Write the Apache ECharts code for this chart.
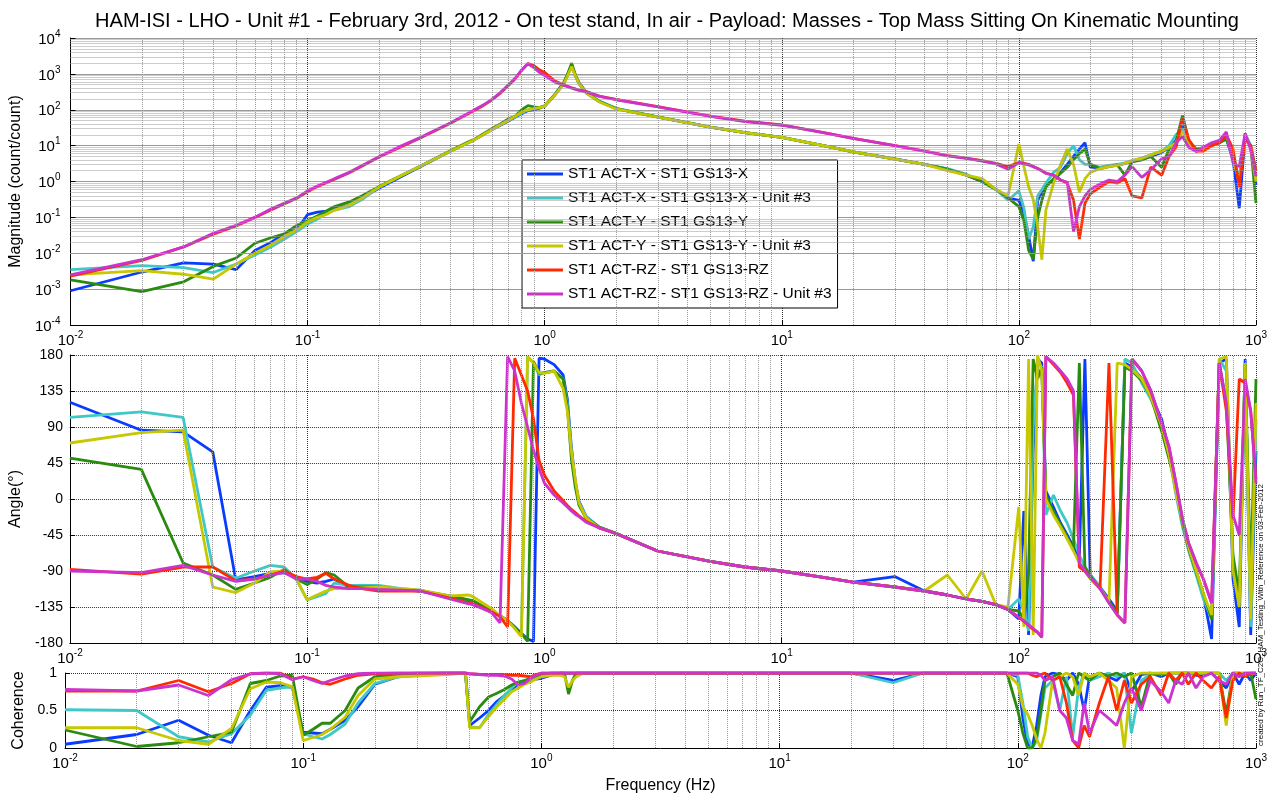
<!DOCTYPE html>
<html>
<head>
<meta charset="utf-8">
<title>HAM-ISI LHO Unit #1 transfer functions</title>
<script src="https://cdn.jsdelivr.net/npm/echarts@6.0.0/dist/echarts.min.js"></script>
<style>
html, body { margin: 0; padding: 0; background: #fff; }
#chart { width: 1276px; height: 799px; }
</style>
</head>
<body>
<div id="chart"></div>
<script>
// frequency grid (Hz), shared by every curve
var freqs = [
    0.01, 0.02, 0.03, 0.04, 0.05, 0.06, 0.07, 0.08, 0.09, 0.1,
    0.11, 0.12, 0.13, 0.15, 0.17, 0.2, 0.25, 0.3, 0.4, 0.48,
    0.5, 0.55, 0.6, 0.65, 0.7, 0.75, 0.8, 0.85, 0.9, 0.95,
    1.0, 1.1, 1.2, 1.25, 1.3, 1.35, 1.4, 1.5, 1.7, 2,
    3, 5, 7, 10, 15, 20, 30, 40, 50, 60,
    70, 80, 90, 100, 105, 110, 115, 120, 125, 130,
    140, 150, 160, 170, 180, 190, 200, 220, 240, 260,
    280, 300, 330, 360, 400, 430, 460, 490, 520, 560,
    600, 650, 700, 750, 800, 850, 900, 950, 1000
]

var seriesNames = [
    'ST1 ACT-X - ST1 GS13-X',
    'ST1 ACT-X - ST1 GS13-X - Unit #3',
    'ST1 ACT-Y - ST1 GS13-Y',
    'ST1 ACT-Y - ST1 GS13-Y - Unit #3',
    'ST1 ACT-RZ - ST1 GS13-RZ',
    'ST1 ACT-RZ - ST1 GS13-RZ - Unit #3'
]
var seriesColors = ['#0a3cff', '#40c8c8', '#2b8a10', '#c8c800', '#ff2a00', '#cc33cc']

// magnitude (count/count)
var magX = [
    9e-4, 3e-3, 5.4e-3, 5e-3, 3.5e-3, 0.012, 0.02, 0.035, 0.045, 0.12,
    0.14, 0.15, 0.17, 0.22, 0.35, 0.65, 1.4, 2.6, 7, 12.5,
    14, 20, 28, 37, 48, 62, 78, 95, 100, 110,
    125, 250, 520, 950, 1700, 850, 520, 290, 170, 108,
    62, 33, 23, 17, 10, 6.7, 4.3, 3.0, 2.2, 1.5,
    1.0, 0.6, 0.35, 0.3, 0.13, 0.03, 0.006, 0.3, 0.5, 0.85,
    1.0, 1.8, 3, 5, 8, 12, 2.5, 2.4, 2.7, 2.8,
    3.2, 3.6, 4.2, 5, 6.5, 9, 14, 35, 12, 8,
    8, 10, 12, 16, 4, 0.18, 20, 9, 0.8
]
var magX3 = [
    3.5e-3, 4.5e-3, 4e-3, 2.9e-3, 5e-3, 9e-3, 0.015, 0.025, 0.04, 0.065,
    0.09, 0.13, 0.16, 0.2, 0.32, 0.7, 1.5, 2.7, 7, 12.5,
    14, 21, 28, 38, 50, 64, 82, 100, 108, 115,
    128, 260, 540, 1000, 1750, 880, 540, 300, 175, 110,
    63, 33, 23, 17, 10, 6.7, 4.2, 3.0, 2.3, 1.6,
    1.0, 0.6, 0.3, 0.55, 0.18, 0.025, 0.055, 0.4, 0.6, 0.9,
    1.8, 2.5, 6, 10, 4, 3, 3, 2.5, 2.8, 3,
    3.3, 3.8, 4.5, 5.5, 7, 10, 20, 30, 12, 8,
    9, 10, 12, 18, 5, 1.2, 22, 10, 2
]
var magY = [
    1.8e-3, 8.5e-4, 1.6e-3, 4.3e-3, 7.4e-3, 0.019, 0.027, 0.035, 0.06, 0.08,
    0.11, 0.15, 0.2, 0.27, 0.4, 0.72, 1.5, 2.7, 7.2, 13,
    14.5, 21, 30, 40, 55, 66, 100, 130, 120, 115,
    128, 260, 560, 1000, 2000, 900, 550, 300, 170, 108,
    63, 33, 23, 17, 10, 6.7, 4.2, 3.0, 2.2, 1.5,
    1.0, 0.6, 0.35, 0.2, 0.08, 0.012, 0.0068, 0.1, 0.3, 0.7,
    1.2, 1.7, 2.5, 4, 6, 8, 3, 2.3, 2.6, 2.9,
    1.5, 3.5, 4, 5, 2.5, 8, 13, 70, 14, 8,
    8, 11, 12, 15, 4.5, 1.0, 18, 10, 0.25
]
var magY3 = [
    2.5e-3, 3.3e-3, 2.6e-3, 1.9e-3, 5e-3, 0.01, 0.017, 0.03, 0.045, 0.075,
    0.1, 0.12, 0.16, 0.22, 0.35, 0.7, 1.5, 2.7, 7, 12.5,
    14, 20, 28, 38, 50, 66, 85, 100, 108, 115,
    125, 250, 500, 900, 1600, 850, 520, 290, 165, 105,
    62, 33, 23, 17, 10, 6.7, 4.2, 3.0, 2.0, 1.5,
    1.2, 0.6, 0.4, 11, 2.6, 0.7, 0.31, 0.055, 0.0066, 0.16,
    0.9, 3, 8, 3, 0.5, 1.2, 1.8, 2.3, 2.6, 2.8,
    3.2, 3.8, 4.4, 5.5, 7, 9, 12, 25, 12, 7,
    8, 10, 13, 22, 4, 1.0, 20, 9, 1.0
]
var magRZ = [
    2.3e-3, 6.3e-3, 0.015, 0.034, 0.058, 0.1, 0.16, 0.24, 0.34, 0.52,
    0.72, 0.92, 1.15, 1.75, 2.7, 4.8, 9.5, 16.5, 42, 80,
    92, 130, 190, 290, 460, 720, 1250, 1950, 1700, 1300,
    1100, 640, 500, 450, 410, 380, 350, 320, 240, 195,
    122, 66, 48, 38, 23, 16, 10, 7, 5.3, 4.5,
    3.8, 3.2, 2.6, 3.4, 3.2, 3.0, 2.6, 2.3, 2.0, 1.7,
    1.5, 1.1, 0.9, 0.3, 0.025, 0.25, 0.45, 0.7, 1.0, 0.9,
    1.2, 0.4, 0.35, 2.5, 1.5, 5, 9, 60, 15, 7,
    7, 10, 12, 20, 8, 0.7, 15, 10, 2
]
var magRZ3 = [
    2.5e-3, 6.6e-3, 0.015, 0.036, 0.06, 0.1, 0.17, 0.25, 0.35, 0.55,
    0.75, 0.95, 1.2, 1.8, 2.8, 4.9, 10, 17, 43, 82,
    95, 135, 195, 300, 480, 750, 1300, 1900, 1500, 1100,
    900, 600, 480, 440, 400, 370, 345, 316, 235, 190,
    120, 65, 47, 37, 23, 16, 10, 7, 5.2, 4.4,
    3.7, 3.1, 2.2, 3.3, 3.1, 2.9, 2.6, 2.3, 2.0, 1.7,
    1.5, 1.1, 0.95, 0.04, 0.2, 0.4, 0.6, 0.85, 1.1, 1.0,
    1.5, 2.6, 1.3, 2.1, 4.3, 5, 12, 18, 9, 6.8,
    9, 12, 14, 24, 3.3, 2.6, 22, 7.6, 1.4
]

// phase (degrees, wrapped)
var phaseX = [
    121, 86, 84, 59, -101, -97, -93, -92, -98, -103,
    -105, -103, -100, -110, -112, -112, -113, -115, -122, -127,
    -128, -135, -140, -146, -152, -160, -168, -175, -178, 176,
    175, 168, 155, 125, 65, 22, -3, -22, -35, -43,
    -65, -78, -85, -90, -98, -104, -97, -115, -120, -125,
    -128, -132, -138, -150, -15, -170, 60, 175, 170, 10,
    -10, -30, -45, -60, -75, 175, -95, -110, -125, -140,
    170, 165, 150, 130, 100, 60, 10, -30, -60, -90,
    -120, -175, 170, 175, -100, -160, 175, -170, 60
]
var phaseX3 = [
    102, 109, 102, -85, -99, -90, -83, -85, -100, -126,
    -122, -118, -105, -108, -108, -108, -112, -114, -122, -126,
    -127, -134, -140, -146, -152, -160, -170, 178, 170, 155,
    158, 160, 150, 120, 60, 20, -5, -22, -35, -43,
    -65, -78, -85, -90, -98, -104, -110, -115, -120, -125,
    -128, -132, -138, -125, -140, -165, 90, 170, 165, -20,
    5, -15, -30, -50, -70, -85, -95, -110, -130, -145,
    175, 170, 145, 125, 95, 55, 5, -35, -65, -95,
    -125, -150, 175, 160, -80, -130, 170, -160, 100
]
var phaseY = [
    51, 37, -80, -95, -113, -105, -98, -88, -100, -107,
    -100, -92, -95, -110, -110, -110, -113, -115, -121, -126,
    -127, -134, -140, -146, -152, -160, -168, -178, 172, 157,
    158, 160, 150, 115, 50, 15, -8, -24, -35, -43,
    -65, -78, -85, -90, -98, -104, -110, -115, -120, -125,
    -128, -132, -138, -140, -150, -90, 175, 150, 165, 5,
    -15, -32, -48, -62, 170, -85, -96, -112, -128, -142,
    165, 160, 148, 128, 85, 50, 15, -30, -62, -92,
    -118, -150, 170, 120, -70, -120, 168, -100, 150
]
var phaseY3 = [
    70, 83, 86, -110, -117, -105, -91, -90, -100, -126,
    -120, -115, -112, -112, -111, -110, -112, -114, -121, -120,
    -122, -130, -137, -146, -152, -162, -172, 178, 170, 158,
    157, 160, 138, 110, 60, 25, -5, -24, -36, -43,
    -65, -78, -85, -90, -98, -104, -110, -115, -95, -125,
    -90, -132, -135, -10, -160, 175, -170, 180, 160, 0,
    -20, -35, -50, -65, -80, -90, -100, -112, -128, 170,
    168, 162, 150, 128, 92, 55, 8, -28, -60, -90,
    -118, -145, 175, 178, -90, -135, 170, -150, 120
]
var phaseRZ = [
    -88, -94, -85, -85, -102, -100, -95, -90, -97, -100,
    -98, -93, -100, -108, -112, -115, -115, -115, -124, -130,
    -131, -136, -141, -147, -160, 176, 155, 135, 100, 48,
    30, 10, -2, -8, -13, -17, -21, -28, -36, -43,
    -65, -78, -85, -90, -98, -104, -110, -115, -120, -125,
    -128, -132, -138, -148, -153, -158, -163, -167, -173, 178,
    168, 158, 145, 130, -85, -90, -98, -112, 170, -145,
    -155, 175, 160, 135, 95, 65, 20, -25, -55, -80,
    -100, -130, 170, 110, -25, 150, 145, 110, 25
]
var phaseRZ3 = [
    -90, -92, -83, -95, -103, -100, -95, -92, -100, -100,
    -103, -108, -110, -112, -112, -113, -114, -115, -125, -131,
    -132, -137, -142, -155, 178, 160, 120, 90, 61, 38,
    20, 5, -5, -10, -15, -19, -22, -29, -36, -43,
    -65, -78, -85, -90, -98, -104, -110, -115, -120, -125,
    -128, -132, -138, -148, -152, -157, -162, -166, -172, 178,
    170, 160, 150, 135, -80, -90, -98, -112, -130, -145,
    -155, 175, 160, 136, 95, 65, 20, -25, -55, -80,
    -100, -130, 170, 120, -20, -45, 150, 110, 20
]

// coherence
var cohX = [
    0.05, 0.18, 0.37, 0.17, 0.07, 0.5, 0.81, 0.83, 0.81, 0.21,
    0.2, 0.19, 0.25, 0.37, 0.55, 0.85, 0.95, 0.99, 1, 1,
    0.3, 0.4, 0.5, 0.62, 0.7, 0.78, 0.85, 0.88, 0.9, 0.92,
    0.93, 0.97, 1, 1, 1, 1, 1, 1, 1, 1,
    1, 1, 1, 1, 1, 1, 0.9, 1, 1, 1,
    1, 1, 1, 0.95, 0.4, 0.05, 0.02, 0.3, 0.7, 0.95,
    1, 0.98, 0.9, 1, 0.85, 0.5, 0.95, 1, 0.95, 0.9,
    1, 0.75, 0.98, 1, 0.95, 1, 1, 1, 1, 0.97,
    0.96, 1, 0.9, 0.8, 1, 0.85, 1, 0.9, 1
]
var cohX3 = [
    0.51, 0.5, 0.15, 0.08, 0.19, 0.44, 0.77, 0.8, 0.82, 0.19,
    0.15, 0.12, 0.18, 0.32, 0.6, 0.86, 0.95, 0.97, 0.99, 1,
    0.28, 0.27, 0.45, 0.58, 0.7, 0.8, 0.88, 0.9, 0.92, 0.95,
    0.97, 1, 1, 1, 1, 1, 1, 1, 1, 1,
    1, 1, 1, 1, 1, 1, 0.87, 1, 1, 1,
    1, 1, 1, 0.97, 0.6, 0.15, 0.0, 0.1, 0.45, 0.8,
    0.9, 0.5, 0.95, 0.15, 0.8, 1, 0.9, 0.95, 1, 0.95,
    1, 0.2, 0.9, 0.98, 1, 1, 1, 1, 1, 1,
    1, 1, 1, 0.9, 1, 1, 1, 1, 1
]
var cohY = [
    0.24, 0.02, 0.07, 0.15, 0.21, 0.86, 0.9, 0.96, 0.97, 0.17,
    0.25, 0.33, 0.33, 0.5, 0.8, 0.95, 0.98, 1, 1, 1,
    0.35, 0.55, 0.68, 0.73, 0.78, 0.84, 0.88, 0.9, 0.93, 0.96,
    0.98, 1, 1, 1, 0.72, 0.9, 1, 1, 1, 1,
    1, 1, 1, 1, 1, 1, 1, 1, 1, 1,
    1, 1, 1, 0.5, 0.2, 0.0, 0.0, 0.15, 0.5, 0.9,
    0.95, 1, 0.85, 0.7, 1, 0.95, 0.9, 1, 0.96, 1,
    0.95, 1, 0.55, 1, 0.97, 1, 0.85, 1, 1, 1,
    1, 1, 1, 0.45, 1, 1, 0.95, 1, 0.65
]
var cohY3 = [
    0.27, 0.27, 0.1, 0.05, 0.26, 0.79, 0.88, 0.87, 0.82, 0.1,
    0.14, 0.18, 0.25, 0.41, 0.7, 0.92, 0.95, 0.96, 0.98, 1,
    0.27, 0.27, 0.42, 0.55, 0.65, 0.75, 0.8, 0.85, 0.88, 0.92,
    0.95, 0.97, 0.97, 0.95, 0.81, 0.9, 0.95, 1, 1, 1,
    1, 1, 1, 1, 1, 1, 1, 1, 1, 1,
    1, 1, 1, 0.85, 0.55, 0.45, 0.3, 0.12, 0.0, 0.2,
    0.9, 0.95, 1, 0.95, 0.7, 1, 0.95, 1, 0.9, 0.8,
    0.0, 0.95, 1, 1, 1, 1, 1, 1, 1, 1,
    1, 1, 1, 0.3, 1, 1, 1, 1, 1
]
var cohRZ = [
    0.76, 0.76, 0.9, 0.75, 0.86, 0.99, 1, 1, 0.92, 0.95,
    0.92, 0.87, 0.85, 0.92, 0.97, 0.99, 1, 1, 1, 1,
    0.99, 0.98, 0.98, 0.98, 0.98, 0.97, 0.97, 0.96, 0.95, 0.98,
    1, 1, 1, 1, 1, 1, 1, 1, 1, 1,
    1, 1, 1, 1, 1, 1, 1, 1, 1, 1,
    1, 1, 1, 1, 1, 1, 0.97, 0.95, 0.98, 1,
    0.9, 0.95, 0.6, 0.1, 0.0, 0.3, 0.15, 0.6, 0.95, 0.5,
    0.9, 0.6, 0.85, 0.95, 0.7, 1, 0.9, 1, 0.85, 1,
    0.9, 0.8, 0.95, 0.4, 0.9, 1, 0.95, 1, 1
]
var cohRZ3 = [
    0.78, 0.76, 0.84, 0.7, 0.91, 0.99, 1, 0.99, 0.91, 0.95,
    0.9, 0.86, 0.9, 0.96, 0.99, 1, 1, 1, 1, 1,
    0.99, 0.98, 0.97, 0.97, 0.96, 0.92, 0.84, 0.86, 0.93, 0.97,
    1, 1, 1, 1, 1, 1, 1, 1, 1, 1,
    1, 1, 1, 1, 1, 1, 1, 1, 1, 1,
    1, 1, 1, 1, 1, 1, 1, 1, 0.97, 0.9,
    0.95, 0.5, 0.4, 0.1, 0.05, 0.6, 0.2, 0.5, 0.4, 0.3,
    0.6, 0.8, 0.5, 0.9, 0.75, 0.6, 0.9, 0.85, 1, 0.8,
    0.95, 1, 0.9, 0.85, 1, 0.95, 1, 1, 1
]

var magnitudes = [magX, magX3, magY, magY3, magRZ, magRZ3]
var phases = [phaseX, phaseX3, phaseY, phaseY3, phaseRZ, phaseRZ3]
var coherences = [cohX, cohX3, cohY, cohY3, cohRZ, cohRZ3]

var FONT = 'Liberation Sans, Arial, Helvetica, sans-serif'
var chart = echarts.init(document.getElementById('chart'), null, { renderer: 'canvas' })

// panel boxes (px)
var panels = [
    { top: 38, height: 287 },
    { top: 355, height: 288 },
    { top: 673, height: 75 }
]

function pairs (ys) {
    return freqs.map(function (f, i) { return [f, ys[i]] })
}

// "10" with the exponent raised
function pow10 (v) {
    var e = Math.round(Math.log(v) / Math.LN10)
    return '{b|10}{s|' + e + '}'
}
var richPow = {
    b: { fontSize: 15, lineHeight: 18, verticalAlign: 'bottom', fontFamily: FONT, color: '#000' },
    s: { fontSize: 10, lineHeight: 14, verticalAlign: 'top', fontFamily: FONT, color: '#000' }
}

// minor grid lines at 2..9 of every decade
function minorLines (key, lo, hi) {
    var out = []
    for (var d = lo; d < hi; d++) {
        for (var k = 2; k <= 9; k++) {
            var o = {}
            o[key] = k * Math.pow(10, d)
            out.push(o)
        }
    }
    return out
}

var axisLine = { onZero: false, lineStyle: { color: '#000', width: 1 } }
var axisTick = { inside: true, length: 5, lineStyle: { color: '#000' } }
var majorGrid = { show: true, lineStyle: { type: 'dotted', color: '#333', width: 1 } }
var nameStyle = { fontSize: 16, color: '#000', fontFamily: FONT }

var xAxes = panels.map(function (p, i) {
    return {
        type: 'log',
        logBase: 10,
        gridIndex: i,
        min: 0.01,
        max: 1000,
        splitNumber: 5,
        axisLine: axisLine,
        axisTick: axisTick,
        axisLabel: { margin: 5, formatter: pow10, rich: richPow },
        splitLine: majorGrid,
        name: i === 2 ? 'Frequency (Hz)' : '',
        nameLocation: 'middle',
        nameGap: 30,
        nameTextStyle: nameStyle
    }
})

var yAxes = [
    {
        type: 'log',
        logBase: 10,
        gridIndex: 0,
        min: 1e-4,
        max: 1e4,
        splitNumber: 8,
        axisLine: axisLine,
        axisTick: axisTick,
        axisLabel: { margin: 10, formatter: pow10, rich: richPow },
        splitLine: majorGrid,
        name: 'Magnitude (count/count)',
        nameLocation: 'middle',
        nameGap: 37,
        nameTextStyle: nameStyle
    },
    {
        type: 'value',
        gridIndex: 1,
        min: -180,
        max: 180,
        interval: 45,
        axisLine: axisLine,
        axisTick: axisTick,
        axisLabel: { margin: 7, fontSize: 14, color: '#000', fontFamily: FONT },
        splitLine: majorGrid,
        name: 'Angle(°)',
        nameLocation: 'middle',
        nameGap: 40,
        nameTextStyle: nameStyle
    },
    {
        type: 'value',
        gridIndex: 2,
        min: 0,
        max: 1,
        interval: 0.5,
        axisLine: axisLine,
        axisTick: axisTick,
        axisLabel: { margin: 8, fontSize: 14, color: '#000', fontFamily: FONT },
        splitLine: majorGrid,
        name: 'Coherence',
        nameLocation: 'middle',
        nameGap: 32,
        nameTextStyle: nameStyle
    }
]

var series = []

// dotted minor grid, one carrier series per panel
panels.forEach(function (p, i) {
    var lines = minorLines('xAxis', -2, 3)
    if (i === 0) lines = lines.concat(minorLines('yAxis', -4, 4))
    series.push({
        type: 'line',
        xAxisIndex: i,
        yAxisIndex: i,
        data: [],
        silent: true,
        markLine: {
            silent: true,
            symbol: ['none', 'none'],
            label: { show: false },
            lineStyle: { type: 'dotted', color: '#9a9a9a', width: 1 },
            emphasis: { disabled: true },
            animation: false,
            data: lines
        }
    })
})

var panelData = [magnitudes, phases, coherences]
panelData.forEach(function (set, i) {
    set.forEach(function (ys, k) {
        series.push({
            type: 'line',
            name: seriesNames[k],
            xAxisIndex: i,
            yAxisIndex: i,
            data: pairs(ys),
            showSymbol: false,
            symbol: 'none',
            lineStyle: { width: 2.8, color: seriesColors[k] },
            itemStyle: { color: seriesColors[k] },
            emphasis: { disabled: true },
            z: 3
        })
    })
})

var option = {
    animation: false,
    backgroundColor: '#fff',
    textStyle: { fontFamily: FONT },
    title: {
        text: 'HAM-ISI - LHO - Unit #1 - February 3rd, 2012 - On test stand, In air - Payload: Masses - Top Mass Sitting On Kinematic Mounting',
        left: 662,
        textAlign: 'center',
        top: 6,
        textStyle: { fontSize: 20, fontWeight: 'normal', color: '#000', fontFamily: FONT }
    },
    legend: {
        data: seriesNames,
        orient: 'vertical',
        left: 522,
        top: 160,
        padding: [6, 6, 6, 5],
        itemGap: 8,
        itemWidth: 36,
        itemHeight: 3,
        icon: 'rect',
        selectedMode: false,
        backgroundColor: '#fff',
        borderColor: '#000',
        borderWidth: 1,
        textStyle: { fontSize: 15.5, color: '#000', fontFamily: FONT }
    },
    grid: panels.map(function (p) {
        return { left: 65, right: 20, top: p.top, height: p.height, containLabel: false }
    }),
    xAxis: xAxes,
    yAxis: yAxes,
    graphic: [{
        type: 'text',
        x: 1261,
        y: 615,
        rotation: Math.PI / 2,
        style: {
            text: 'created by Run_TF_C2C_HAM_Testing_With_Reference on 03-Feb-2012',
            fontSize: 8,
            fontFamily: FONT,
            fill: '#000',
            align: 'center',
            verticalAlign: 'middle'
        }
    }],
    series: series
}

chart.setOption(option)
</script>
</body>
</html>
